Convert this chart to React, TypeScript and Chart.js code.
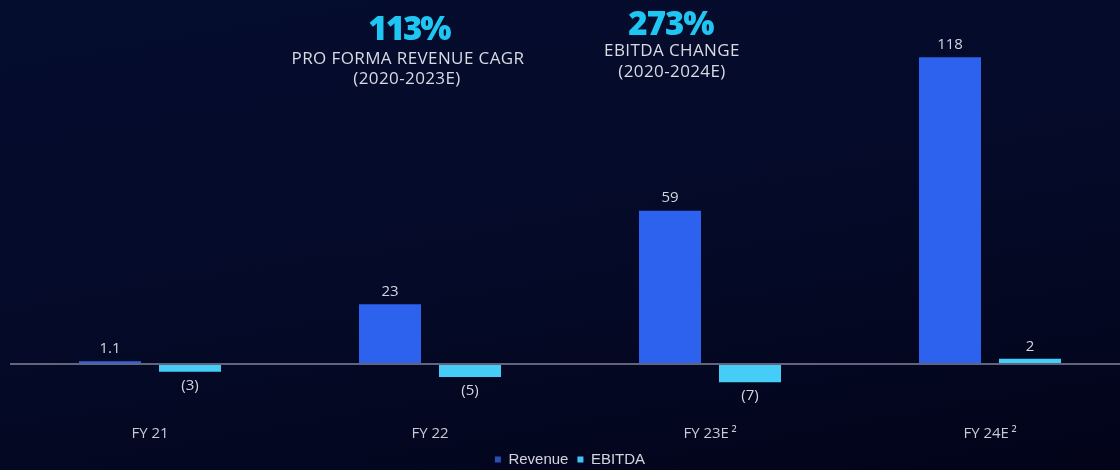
import React, { useEffect, useRef } from "react";
import { Chart, registerables } from "chart.js";

Chart.register(...registerables);

const categories = ["FY 21", "FY 22", "FY 23E\u2009\u00B2", "FY 24E\u2009\u00B2"];
const revenueValues = [1.1, 23, 59, 118];
const ebitdaValues = [-3, -5, -7, 2];
const seriesNames = ["Revenue", "EBITDA"];

const REV_COLOR = "#2c62ee";
const EBITDA_COLOR = "#45cdf7";
const REV_LEGEND = "#2b4fb8";
const EBITDA_LEGEND = "#40c6f2";
const TEXT_COLOR = "#d3d5de";
const FONT = "'Open Sans', 'DejaVu Sans', sans-serif";

function fmt(v: number): string {
  return v < 0 ? `(${Math.abs(v)})` : String(v);
}

const valueLabels = {
  id: "valueLabels",
  afterDatasetsDraw(chart: any) {
    const ctx = chart.ctx;
    ctx.save();
    ctx.font = `15px ${FONT}`;
    ctx.fillStyle = TEXT_COLOR;
    ctx.textAlign = "center";
    chart.data.datasets.forEach((ds: any, di: number) => {
      const meta = chart.getDatasetMeta(di);
      meta.data.forEach((el: any, i: number) => {
        const v = ds.data[i];
        if (v >= 0) {
          ctx.textBaseline = "bottom";
          ctx.fillText(fmt(v), el.x, el.y - 5);
        } else {
          ctx.textBaseline = "top";
          ctx.fillText(fmt(v), el.x, el.y + 6);
        }
      });
    });
    ctx.restore();
  },
};

export default function App() {
  const ref = useRef<HTMLCanvasElement>(null);
  useEffect(() => {
    const legendColors = [REV_LEGEND, EBITDA_LEGEND];
    const chart = new Chart(ref.current!, {
      type: "bar",
      data: {
        labels: categories,
        datasets: [
          {
            label: seriesNames[0],
            data: revenueValues,
            backgroundColor: REV_COLOR,
            categoryPercentage: 160 / 280,
            barPercentage: 0.775,
          },
          {
            label: seriesNames[1],
            data: ebitdaValues,
            backgroundColor: EBITDA_COLOR,
            categoryPercentage: 160 / 280,
            barPercentage: 0.775,
          },
        ],
      },
      options: {
        animation: false,
        responsive: false,
        layout: { padding: { left: 10, right: 10, top: 26, bottom: 0 } },
        scales: {
          x: {
            grid: { display: false, drawTicks: false },
            border: { display: false },
            ticks: {
              color: "#c9cbd4",
              font: { family: FONT, size: 15, lineHeight: 1.2 },
              padding: 0,
            },
          },
          y: {
            display: true,
            min: -23.44,
            max: 130,
            ticks: { display: false },
            border: { display: false },
            grid: {
              drawTicks: false,
              lineWidth: 2,
              color: (c: any) => (c.tick && c.tick.value === 0 ? "#62647b" : "rgba(0,0,0,0)"),
            },
            afterBuildTicks: (axis: any) => {
              axis.ticks = [{ value: 0 }];
            },
          },
        },
        plugins: {
          legend: {
            position: "bottom",
            labels: {
              color: TEXT_COLOR,
              font: { family: "'Liberation Sans', Arial, sans-serif", size: 15 },
              boxWidth: 6,
              boxHeight: 6,
              padding: 9,
              generateLabels: (ch: any) => {
                const items = Chart.defaults.plugins.legend.labels.generateLabels(ch);
                items.forEach((it: any, i: number) => {
                  it.fillStyle = legendColors[i];
                  it.strokeStyle = legendColors[i];
                  it.lineWidth = 0;
                });
                return items;
              },
            },
          },
          tooltip: { enabled: false },
        },
      },
      plugins: [valueLabels],
    });
    return () => chart.destroy();
  }, []);

  const head: React.CSSProperties = {
    position: "absolute",
    transform: "translate(-50%, -50%)",
    whiteSpace: "nowrap",
    lineHeight: 1,
    fontFamily: FONT,
  };
  const big: React.CSSProperties = {
    ...head,
    color: "#1fc6f2",
    fontWeight: 800,
    fontSize: 33,
    letterSpacing: "-1px",
  };
  const small: React.CSSProperties = {
    ...head,
    color: "#d9dbe3",
    fontSize: 17,
    letterSpacing: "0.4px",
  };

  return (
    <div
      style={{
        position: "absolute",
        left: 0,
        top: 0,
        width: 1120,
        height: 470,
        overflow: "hidden",
        background: "linear-gradient(170deg, #050d2f 0%, #040a28 50%, #03041a 100%)",
      }}
    >
      <canvas ref={ref} width={1140} height={477} style={{ display: "block" }} />
      <div style={{ ...big, left: 409, top: 27, letterSpacing: "-2px" }}>113%</div>
      <div style={{ ...small, left: 408, top: 57 }}>PRO FORMA REVENUE CAGR</div>
      <div style={{ ...small, left: 407, top: 77 }}>(2020-2023E)</div>
      <div style={{ ...big, left: 671, top: 22 }}>273%</div>
      <div style={{ ...small, left: 672, top: 49 }}>EBITDA CHANGE</div>
      <div style={{ ...small, left: 672, top: 70 }}>(2020-2024E)</div>
    </div>
  );
}
